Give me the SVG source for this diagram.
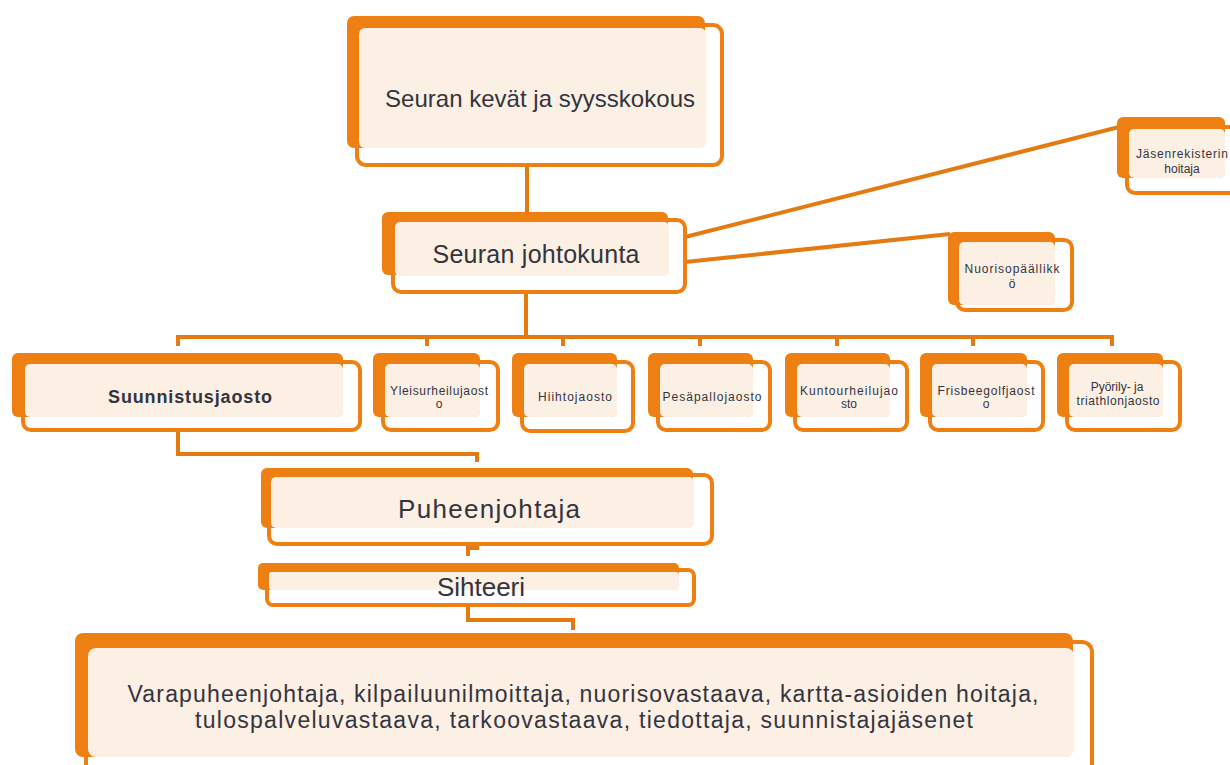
<svg xmlns="http://www.w3.org/2000/svg" width="1230" height="765" viewBox="0 0 1230 765">
<style>
.o{fill:#ffffff;stroke:#EE7F12;stroke-width:4}
.s{fill:#EE7F12}
.c{fill:#FCEFE3}
.t{font-family:"Liberation Sans",Arial,sans-serif;fill:#34343f;text-anchor:middle}
.sm{font-size:12px}
.ln{fill:none;stroke:#E57A10;stroke-width:4}
</style>
<rect width="1230" height="765" fill="#ffffff"/>
<g id="connectors">
<path class="ln" d="M527,150 V214"/>
<path class="ln" d="M526,290 V337"/>
<path class="ln" d="M178,346 V337 H1112 V346"/>
<path class="ln" d="M427,337 V346 M563,337 V346 M700,337 V346 M837,337 V346 M973,337 V346"/>
<path class="ln" d="M685,237 L1119,127"/>
<path class="ln" d="M685,262 L950,234"/>
<path class="ln" d="M178,428 V454 H477 V462"/>
<path class="ln" d="M477,532 V548 H468 V556"/>
<path class="ln" d="M468,603 V620 H573 V630"/>
</g>
<g id="n-kokous">
<rect class="o" x="357" y="25" width="365" height="140" rx="9"/>
<rect class="s" x="347" y="16" width="358" height="132" rx="7"/>
<rect class="c" x="359" y="28" width="347" height="120" rx="6"/>
<text class="t" x="540" y="107" font-size="24" textLength="310">Seuran kevät ja syysskokous</text>
</g>
<g id="n-johtokunta">
<rect class="o" x="393" y="220" width="292" height="72" rx="8"/>
<rect class="s" x="382" y="212" width="286" height="63" rx="6"/>
<rect class="c" x="395" y="222" width="274" height="54" rx="5"/>
<text class="t" x="536" y="263" font-size="25" textLength="207">Seuran johtokunta</text>
</g>
<g id="n-jasenrekisteri">
<rect class="o" x="1127" y="127" width="115" height="66" rx="8"/>
<rect class="s" x="1117" y="117" width="108" height="61" rx="6"/>
<rect class="c" x="1129" y="129" width="96" height="49" rx="5"/>
<text class="t sm" x="1182" y="158" textLength="92">Jäsenrekisterin</text>
<text class="t sm" x="1182" y="173">hoitaja</text>
</g>
<g id="n-nuoriso">
<rect class="o" x="957" y="240" width="115" height="70" rx="8"/>
<rect class="s" x="948" y="232" width="107" height="73" rx="6"/>
<rect class="c" x="959" y="242" width="96" height="63" rx="5"/>
<text class="t sm" x="1012" y="273" textLength="95">Nuorisopäällikk</text>
<text class="t sm" x="1012" y="288">ö</text>
</g>
<g id="n-suunnistus">
<rect class="o" x="23" y="362" width="337" height="68" rx="8"/>
<rect class="s" x="12" y="353" width="331" height="64" rx="6"/>
<rect class="c" x="25" y="364" width="318" height="53" rx="5"/>
<text class="t" x="190" y="403" font-size="18" font-weight="bold" textLength="164">Suunnistusjaosto</text>
</g>
<g id="n-yleisurheilu">
<rect class="o" x="383" y="362" width="115" height="68" rx="8"/>
<rect class="s" x="373" y="353" width="107" height="64" rx="6"/>
<rect class="c" x="385" y="364" width="95" height="53" rx="5"/>
<text class="t sm" x="439" y="395" textLength="98">Yleisurheilujaost</text>
<text class="t sm" x="439" y="408">o</text>
</g>
<g id="n-hiihto">
<rect class="o" x="522" y="362" width="111" height="69" rx="8"/>
<rect class="s" x="512" y="353" width="105" height="64" rx="6"/>
<rect class="c" x="524" y="364" width="93" height="53" rx="5"/>
<text class="t sm" x="575" y="401" textLength="74">Hiihtojaosto</text>
</g>
<g id="n-pesapallo">
<rect class="o" x="658" y="362" width="112" height="68" rx="8"/>
<rect class="s" x="648" y="353" width="105" height="64" rx="6"/>
<rect class="c" x="660" y="364" width="93" height="53" rx="5"/>
<text class="t sm" x="712" y="401" textLength="99">Pesäpallojaosto</text>
</g>
<g id="n-kuntourheilu">
<rect class="o" x="795" y="362" width="112" height="68" rx="8"/>
<rect class="s" x="785" y="353" width="105" height="64" rx="6"/>
<rect class="c" x="797" y="364" width="93" height="53" rx="5"/>
<text class="t sm" x="849" y="395" textLength="98">Kuntourheilujao</text>
<text class="t sm" x="849" y="408">sto</text>
</g>
<g id="n-frisbeegolf">
<rect class="o" x="930" y="362" width="113" height="68" rx="8"/>
<rect class="s" x="920" y="353" width="107" height="64" rx="6"/>
<rect class="c" x="932" y="364" width="95" height="53" rx="5"/>
<text class="t sm" x="986" y="395" textLength="97">Frisbeegolfjaost</text>
<text class="t sm" x="986" y="408">o</text>
</g>
<g id="n-pyoraily">
<rect class="o" x="1067" y="362" width="113" height="68" rx="8"/>
<rect class="s" x="1057" y="353" width="106" height="64" rx="6"/>
<rect class="c" x="1069" y="364" width="94" height="53" rx="5"/>
<text class="t sm" x="1117" y="391">Pyörily- ja</text>
<text class="t sm" x="1118" y="405" textLength="83">triathlonjaosto</text>
</g>
<g id="n-puheenjohtaja">
<rect class="o" x="269" y="475" width="443" height="69" rx="8"/>
<rect class="s" x="261" y="468" width="432" height="60" rx="6"/>
<rect class="c" x="271" y="477" width="423" height="51" rx="5"/>
<text class="t" x="489" y="518" font-size="26" textLength="182">Puheenjohtaja</text>
</g>
<g id="n-sihteeri">
<rect class="o" x="267" y="570" width="427" height="35" rx="6"/>
<rect class="s" x="258" y="563" width="421" height="27" rx="5"/>
<rect class="c" x="269" y="572" width="410" height="18" rx="3"/>
<text class="t" x="481" y="596" font-size="26" textLength="88">Sihteeri</text>
</g>
<g id="n-jasenet">
<rect class="o" x="86" y="642" width="1006" height="140" rx="10"/>
<rect class="s" x="75" y="633" width="998" height="124" rx="8"/>
<rect class="c" x="88" y="648" width="986" height="109" rx="8"/>
<text class="t" x="583" y="702" font-size="23" textLength="911">Varapuheenjohtaja, kilpailuunilmoittaja, nuorisovastaava, kartta-asioiden hoitaja,</text>
<text class="t" x="584" y="728" font-size="23" textLength="778">tulospalveluvastaava, tarkoovastaava, tiedottaja, suunnistajajäsenet</text>
</g>
</svg>
